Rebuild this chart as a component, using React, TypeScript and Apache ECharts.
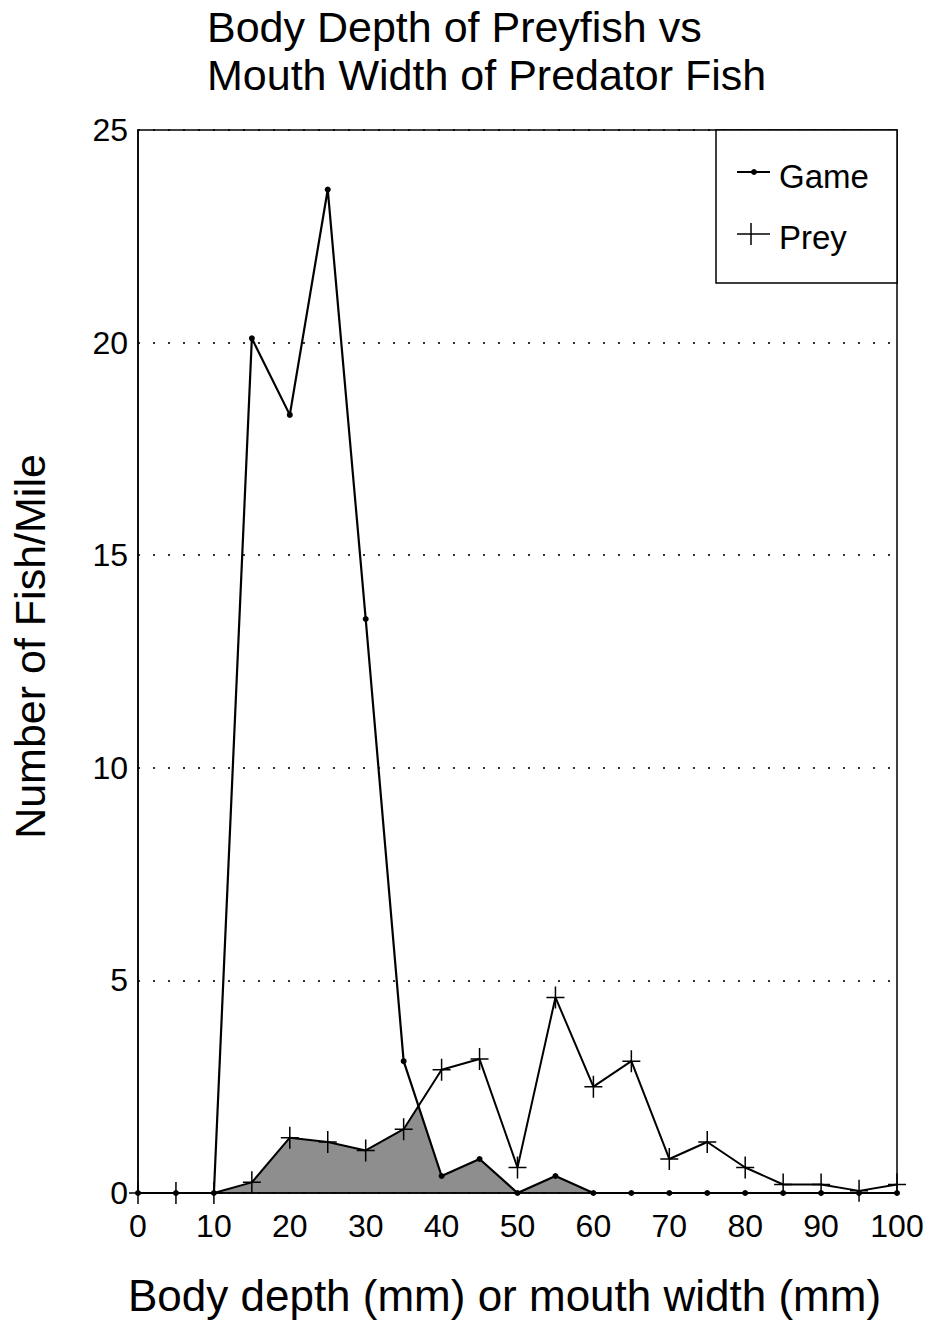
import React, { useEffect, useRef } from 'react';
import * as echarts from 'echarts';

const xValues = [0, 5, 10, 15, 20, 25, 30, 35, 40, 45, 50, 55, 60, 65, 70, 75, 80, 85, 90, 95, 100];
const gameValues = [0, 0, 0, 20.1, 18.3, 23.6, 13.5, 3.1, 0.4, 0.8, 0, 0.4, 0, 0, 0, 0, 0, 0, 0, 0, 0];
const preyValues = [0, 0, 0, 0.25, 1.3, 1.2, 1.0, 1.5, 2.9, 3.15, 0.6, 4.6, 2.5, 3.1, 0.8, 1.2, 0.6, 0.2, 0.2, 0.05, 0.2];
const seriesNames = ['Game', 'Prey'];
const titleLines = ['Body Depth of Preyfish vs', 'Mouth Width of Predator Fish'];
const xAxisName = 'Body depth (mm) or mouth width (mm)';
const yAxisName = 'Number of Fish/Mile';

const FONT = '"Liberation Sans", Arial, Helvetica, sans-serif';
const CROSS = 'path://M8.25,0 H9.75 V10.25 H18 V11.75 H9.75 V22 H8.25 V11.75 H0 V10.25 H8.25 Z';

const pairs = (vals: number[]) => xValues.map((x, i) => [x, vals[i]]);

export default function App() {
  const ref = useRef<HTMLDivElement>(null);
  useEffect(() => {
    document.body.style.margin = '0';
    const chart = echarts.init(ref.current!, null, { renderer: 'svg' });
    chart.setOption({
      animation: false,
      backgroundColor: '#fff',
      title: {
        text: titleLines.join('\n'),
        left: 207,
        top: 3,
        padding: 0,
        textStyle: { fontSize: 43, fontWeight: 'normal', color: '#000', fontFamily: FONT, lineHeight: 48 },
      },
      grid: {
        left: 137, right: 32, top: 130, bottom: 126,
        show: true, borderColor: '#000', borderWidth: 1.5, backgroundColor: 'transparent', z: 4,
      },
      xAxis: {
        type: 'value', min: 0, max: 100, interval: 10, z: 3,
        name: xAxisName, nameLocation: 'middle', nameGap: 80,
        nameTextStyle: { fontSize: 44, color: '#000', fontFamily: FONT, padding: [0, 26, 0, 0] },
        axisLine: { show: true, lineStyle: { color: '#000', width: 1.5 } },
        axisTick: { show: false },
        splitLine: { show: false },
        axisLabel: { fontSize: 32, color: '#000', fontFamily: FONT, margin: 17 },
      },
      yAxis: {
        type: 'value', min: 0, max: 25, interval: 5, z: 3,
        name: yAxisName, nameLocation: 'middle', nameGap: 87, nameRotate: 90,
        nameTextStyle: { fontSize: 43, color: '#000', fontFamily: FONT, padding: [0, 0, 0, 30] },
        axisLine: { show: true, lineStyle: { color: '#000', width: 1.5 } },
        axisTick: { show: false },
        splitLine: { show: true, lineStyle: { color: '#333', width: 2, type: [2, 13] } },
        axisLabel: { fontSize: 32, color: '#000', fontFamily: FONT, margin: 10 },
      },
      series: [
        {
          name: 'overlapFill', type: 'line', data: pairs(preyValues), symbol: 'none', silent: true, z: 1,
          lineStyle: { width: 0, opacity: 0 },
          areaStyle: { color: '#8e8e8e', opacity: 1, origin: 'start' },
        },
        {
          name: 'overlapMask', type: 'line', data: pairs(gameValues), symbol: 'none', silent: true, z: 2,
          lineStyle: { width: 0, opacity: 0 },
          areaStyle: { color: '#fff', opacity: 1, origin: 'end' },
        },
        {
          name: seriesNames[0], type: 'line', data: pairs(gameValues), z: 5,
          symbol: 'circle', symbolSize: 6,
          itemStyle: { color: '#000' },
          lineStyle: { color: '#000', width: 2.2 },
        },
        {
          name: seriesNames[1], type: 'line', data: pairs(preyValues), z: 5,
          symbol: CROSS, symbolSize: [18, 22],
          itemStyle: { color: '#000' },
          lineStyle: { color: '#000', width: 2 },
        },
      ],
      graphic: {
        elements: [
          { type: 'rect', z: 100, shape: { x: 716, y: 130, width: 181, height: 153 }, style: { fill: '#fff', stroke: '#000', lineWidth: 1.5 } },
          { type: 'line', z: 101, shape: { x1: 737, y1: 172, x2: 770, y2: 172 }, style: { stroke: '#000', lineWidth: 2 } },
          { type: 'circle', z: 101, shape: { cx: 754, cy: 172, r: 3 }, style: { fill: '#000' } },
          { type: 'text', z: 101, x: 779, y: 176, style: { text: seriesNames[0], fontSize: 33, fontFamily: FONT, fill: '#000', verticalAlign: 'middle', align: 'left' } },
          { type: 'line', z: 101, shape: { x1: 737, y1: 234, x2: 770, y2: 234 }, style: { stroke: '#000', lineWidth: 1.5 } },
          { type: 'line', z: 101, shape: { x1: 751, y1: 223, x2: 751, y2: 245 }, style: { stroke: '#000', lineWidth: 1.5 } },
          { type: 'text', z: 101, x: 779, y: 237, style: { text: seriesNames[1], fontSize: 33, fontFamily: FONT, fill: '#000', verticalAlign: 'middle', align: 'left' } },
        ],
      },
    });
    return () => chart.dispose();
  }, []);
  return <div ref={ref} style={{ width: 929, height: 1322, background: '#fff' }} />;
}
